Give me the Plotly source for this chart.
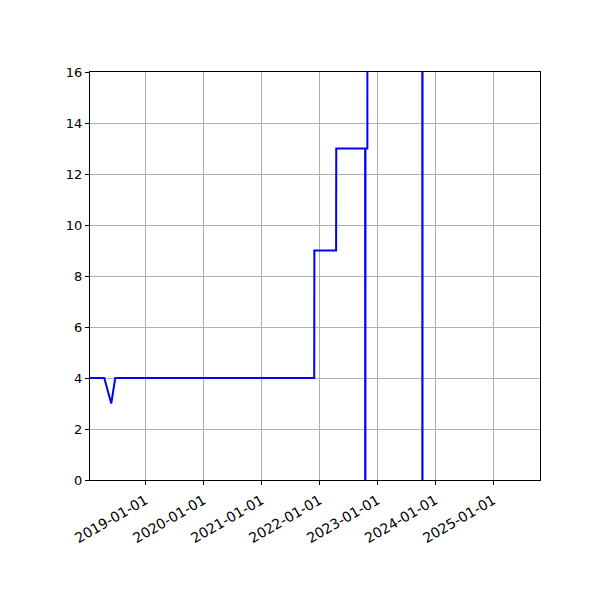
import plotly.graph_objects as go

# step series, values (out-of-range spikes clipped by y range)
dates = ["2018-01-01", "2018-04-16", "2018-05-30", "2018-06-24",
         "2021-11-29", "2021-11-30", "2022-04-16", "2022-04-17",
         "2022-10-16", "2022-10-17", "2022-10-18", "2022-10-30",
         "2022-10-31", "2023-10-11", "2023-10-12", "2023-10-13",
         "2025-12-31"]
values = [4, 4, 3, 4,
          4, 9, 9, 13,
          13, -40, 13, 13,
          40, 40, -40, 40,
          40]

tickDates = ["2019-01-01", "2020-01-01", "2021-01-01", "2022-01-01",
             "2023-01-01", "2024-01-01", "2025-01-01"]
yTicks = [0, 2, 4, 6, 8, 10, 12, 14, 16]

fig = go.Figure()
fig.add_trace(go.Scatter(x=dates, y=values, mode="lines",
                         line=dict(color="blue", width=2),
                         showlegend=False))

axisStyle = dict(showline=True, linecolor="black", linewidth=1, mirror=True,
                 ticks="outside", ticklen=4, tickcolor="black",
                 showgrid=True, gridcolor="#b0b0b0", gridwidth=1,
                 zeroline=False)

fig.update_xaxes(axisStyle, range=["2018-01-16", "2025-10-22"],
                 tickvals=tickDates, ticktext=tickDates, tickangle=-30,
                 ticklabelstandoff=2,
                 tickfont=dict(family="DejaVu Sans", size=14, color="black"))
fig.update_yaxes(axisStyle, range=[0, 16], tickvals=yTicks,
                 tickfont=dict(family="DejaVu Sans", size=13, color="black"))

# page body adds an 8px offset, so margins are shifted to compensate
fig.update_layout(width=600, height=600,
                  margin=dict(l=82, r=68, t=64, b=128),
                  plot_bgcolor="white", paper_bgcolor="white",
                  font=dict(family="DejaVu Sans", size=13, color="black"))

fig.write_html("out.html")
